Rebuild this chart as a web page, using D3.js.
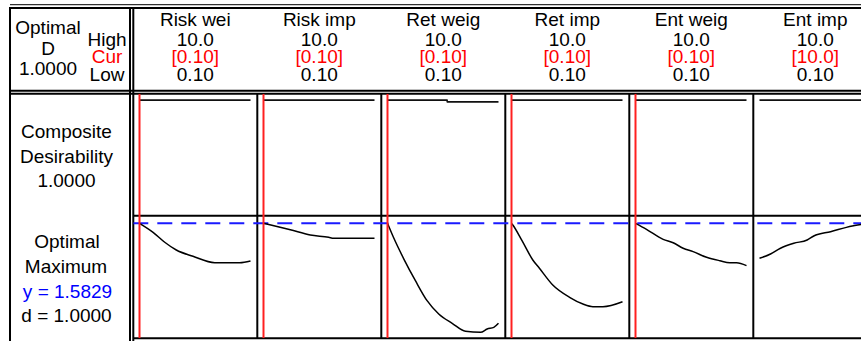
<!DOCTYPE html>
<html>
<head>
<meta charset="utf-8">
<script src="https://cdn.jsdelivr.net/npm/d3@7/dist/d3.min.js"></script>
<style>
  body { margin: 0; background: #fff; }
  text { font-family: "Liberation Sans", Arial, sans-serif; }
</style>
</head>
<body>
<div id="chart"></div>
<script>
// factor header info
const factors = ["Risk wei", "Risk imp", "Ret weig", "Ret imp", "Ent weig", "Ent imp"];
const highLabels = ["10.0", "10.0", "10.0", "10.0", "10.0", "10.0"];
const curLabels = ["[0.10]", "[0.10]", "[0.10]", "[0.10]", "[0.10]", "[10.0]"];
const lowLabels = ["0.10", "0.10", "0.10", "0.10", "0.10", "0.10"];
const curValues = [0.10, 0.10, 0.10, 0.10, 0.10, 10.0];
const factorRange = [0.10, 10.0];

const compositeD = "1.0000";
const yOptimal = 1.5829;
const dOptimal = "1.0000";

// response curves, [factor value, y]
const respRiskWei = [[0.10,1.583],[1.31,1.485],[2.35,1.377],[3.38,1.293],[4.87,1.225],[6.81,1.155],[9.04,1.155],[10.0,1.174]];
const respRiskImp = [[0.10,1.583],[2.49,1.513],[4.27,1.456],[5.91,1.431],[6.36,1.420],[10.0,1.420]];
const respRetWeig = [[0.10,1.583],[0.63,1.431],[1.56,1.195],[2.59,0.960],[3.63,0.743],[4.67,0.599],[5.87,0.498],[7.06,0.411],[8.40,0.400],[8.99,0.436],[9.58,0.454],[10.0,0.498]];
const respRetImp = [[0.10,1.583],[0.22,1.564],[1.05,1.391],[2.00,1.185],[2.59,1.095],[3.78,0.913],[5.28,0.780],[6.47,0.707],[7.36,0.678],[8.25,0.678],[10.0,0.732]];
const respEntWeig = [[0.10,1.583],[1.08,1.518],[2.57,1.409],[3.46,1.372],[4.35,1.312],[5.24,1.275],[6.44,1.214],[7.62,1.177],[8.52,1.155],[9.11,1.155],[10.0,1.123]];
const respEntImp = [[0.10,1.203],[1.08,1.250],[1.97,1.312],[3.16,1.366],[4.35,1.402],[4.94,1.445],[6.44,1.492],[8.37,1.554],[10.0,1.583]];

// desirability curves, [factor value, d]
const desRiskWei = [[0.10,1],[10.0,1]];
const desRiskImp = [[0.10,1],[10.0,1]];
const desRetWeig = [[0.10,1],[5.40,1],[5.45,0.984],[10.0,0.984]];
const desRetImp = [[0.10,1],[10.0,1]];
const desEntWeig = [[0.10,1],[10.0,1]];
const desEntImp = [[0.10,1],[10.0,1]];

const respCurves = [respRiskWei, respRiskImp, respRetWeig, respRetImp, respEntWeig, respEntImp];
const desCurves = [desRiskWei, desRiskImp, desRetWeig, desRetImp, desEntWeig, desEntImp];

const width = 861, height = 341;
const fs = 19;

const svg = d3.select("#chart").append("svg")
    .attr("width", width)
    .attr("height", height);

// layout
const leftX = 10, labelEdge = 130, panelX = 133.3, colW = 124;
const topY = 8, headBottom = 90.7, rowTop = 93.8, rowMid = 215.7, rowBottom = 338.3;

const col = d3.scaleBand()
    .domain(factors)
    .range([panelX, panelX + colW * factors.length])
    .padding(0);

const xIn = d3.scaleLinear().domain(factorRange).range([6.2, 117.2]);

const allY = respCurves.flat().map(d => d[1]);
const yResp = d3.scaleLinear()
    .domain([d3.min(allY), yOptimal])
    .range([332.3, 223.3]);

const yDes = d3.scaleLinear().domain([0, 1]).range([209, 100.2]);

// frame lines
function hline(y, x1, x2, w) {
    svg.append("line").attr("x1", x1).attr("x2", x2).attr("y1", y).attr("y2", y)
        .attr("stroke", "#000").attr("stroke-width", w);
}
function vline(x, y1, y2, w) {
    svg.append("line").attr("x1", x).attr("x2", x).attr("y1", y1).attr("y2", y2)
        .attr("stroke", "#000").attr("stroke-width", w);
}

hline(4.7, leftX, width, 1);
hline(topY, leftX - 1, width, 2);
hline(headBottom, leftX, width, 2);
hline(rowTop, leftX, width, 2);
hline(rowMid, panelX, width, 2);
hline(rowBottom, panelX, width, 2);
vline(leftX, topY, height, 2);
vline(labelEdge, topY, height, 2);
vline(panelX, topY, height, 2);
factors.slice(1).forEach(f => vline(col(f), rowTop, rowBottom, 2));

// left header labels
function label(x, y, txt, color) {
    svg.append("text").attr("x", x).attr("y", y)
        .attr("text-anchor", "middle")
        .style("font-size", fs + "px")
        .style("fill", color || "#000")
        .text(txt);
}

label(48, 34.3, "Optimal");
label(48, 55, "D");
label(48, 74.5, compositeD);
label(107, 45.7, "High");
label(107, 63.3, "Cur", "#ff0000");
label(107, 80.7, "Low");

label(66.5, 138.3, "Composite");
label(66.5, 162.5, "Desirability");
label(66.5, 186.7, compositeD);

label(67, 248.3, "Optimal");
label(66, 273.3, "Maximum");
label(67.5, 297.8, "y = " + yOptimal.toFixed(4), "#0000ff");
label(66.5, 321.7, "d = " + dOptimal);

// column headers
factors.forEach((f, i) => {
    const cx = col(f) + colW / 2;
    label(cx, 26, f);
    label(cx, 45.7, highLabels[i]);
    label(cx, 63.3, curLabels[i], "#ff0000");
    label(cx, 80.7, lowLabels[i]);
});

// clip the panels to the plotting area
svg.append("clipPath").attr("id", "panelClip")
    .append("rect").attr("x", panelX).attr("y", rowTop).attr("width", width - panelX).attr("height", rowBottom - rowTop);

const plot = svg.append("g").attr("clip-path", "url(#panelClip)");

// optimal y reference
plot.append("line")
    .attr("x1", panelX).attr("x2", width)
    .attr("y1", yResp(yOptimal)).attr("y2", yResp(yOptimal))
    .attr("stroke", "#1a1aff").attr("stroke-width", 2)
    .attr("stroke-dasharray", "15,9");

const line = d3.line().curve(d3.curveMonotoneX);

factors.forEach((f, i) => {
    const g = plot.append("g").attr("transform", "translate(" + col(f) + ",0)");

    // desirability
    g.append("path")
        .attr("d", d3.line()(desCurves[i].map(d => [xIn(d[0]), yDes(d[1])])))
        .attr("fill", "none").attr("stroke", "#111").attr("stroke-width", 1.8);

    // response
    g.append("path")
        .attr("d", line(respCurves[i].map(d => [xIn(d[0]), yResp(d[1])])))
        .attr("fill", "none").attr("stroke", "#000").attr("stroke-width", 1.5);

    // current setting
    g.append("line")
        .attr("x1", xIn(curValues[i])).attr("x2", xIn(curValues[i]))
        .attr("y1", rowTop).attr("y2", rowBottom)
        .attr("stroke", "#ff2020").attr("stroke-width", 2);
});
</script>
</body>
</html>
